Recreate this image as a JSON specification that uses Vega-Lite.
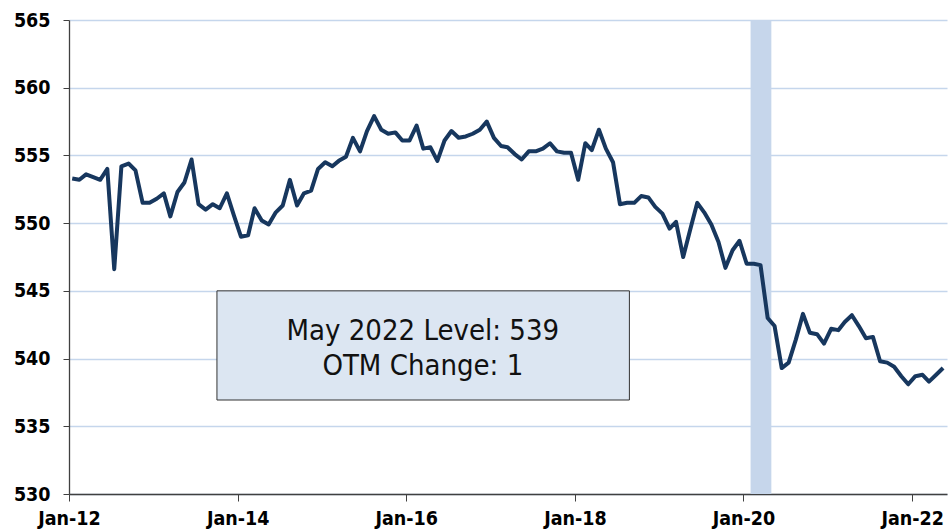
{
  "$schema": "https://vega.github.io/schema/vega-lite/v6.json",
  "width": 878,
  "height": 474,
  "autosize": "none",
  "padding": {"left": 69, "top": 20, "right": 5, "bottom": 36},
  "background": "white",
  "config": {
    "view": {"stroke": null},
    "font": "DejaVu Sans Condensed"
  },
  "datasets": {
    "series": [
      {"date": "2012-01-15", "v": 553.3}, {"date": "2012-02-15", "v": 553.2}, {"date": "2012-03-15", "v": 553.6}, {"date": "2012-04-15", "v": 553.4}, {"date": "2012-05-15", "v": 553.2}, {"date": "2012-06-15", "v": 554.0}, {"date": "2012-07-15", "v": 546.6}, {"date": "2012-08-15", "v": 554.2}, {"date": "2012-09-15", "v": 554.4}, {"date": "2012-10-15", "v": 553.9}, {"date": "2012-11-15", "v": 551.5}, {"date": "2012-12-15", "v": 551.5},
      {"date": "2013-01-15", "v": 551.8}, {"date": "2013-02-15", "v": 552.2}, {"date": "2013-03-15", "v": 550.5}, {"date": "2013-04-15", "v": 552.3}, {"date": "2013-05-15", "v": 553.0}, {"date": "2013-06-15", "v": 554.7}, {"date": "2013-07-15", "v": 551.4}, {"date": "2013-08-15", "v": 551.0}, {"date": "2013-09-15", "v": 551.4}, {"date": "2013-10-15", "v": 551.1}, {"date": "2013-11-15", "v": 552.2}, {"date": "2013-12-15", "v": 550.6},
      {"date": "2014-01-15", "v": 549.0}, {"date": "2014-02-15", "v": 549.1}, {"date": "2014-03-15", "v": 551.1}, {"date": "2014-04-15", "v": 550.2}, {"date": "2014-05-15", "v": 549.9}, {"date": "2014-06-15", "v": 550.8}, {"date": "2014-07-15", "v": 551.3}, {"date": "2014-08-15", "v": 553.2}, {"date": "2014-09-15", "v": 551.3}, {"date": "2014-10-15", "v": 552.2}, {"date": "2014-11-15", "v": 552.4}, {"date": "2014-12-15", "v": 554.0},
      {"date": "2015-01-15", "v": 554.5}, {"date": "2015-02-15", "v": 554.2}, {"date": "2015-03-15", "v": 554.6}, {"date": "2015-04-15", "v": 554.9}, {"date": "2015-05-15", "v": 556.3}, {"date": "2015-06-15", "v": 555.3}, {"date": "2015-07-15", "v": 556.8}, {"date": "2015-08-15", "v": 557.9}, {"date": "2015-09-15", "v": 556.9}, {"date": "2015-10-15", "v": 556.6}, {"date": "2015-11-15", "v": 556.7}, {"date": "2015-12-15", "v": 556.1},
      {"date": "2016-01-15", "v": 556.1}, {"date": "2016-02-15", "v": 557.2}, {"date": "2016-03-15", "v": 555.5}, {"date": "2016-04-15", "v": 555.6}, {"date": "2016-05-15", "v": 554.6}, {"date": "2016-06-15", "v": 556.1}, {"date": "2016-07-15", "v": 556.8}, {"date": "2016-08-15", "v": 556.3}, {"date": "2016-09-15", "v": 556.4}, {"date": "2016-10-15", "v": 556.6}, {"date": "2016-11-15", "v": 556.9}, {"date": "2016-12-15", "v": 557.5},
      {"date": "2017-01-15", "v": 556.3}, {"date": "2017-02-15", "v": 555.7}, {"date": "2017-03-15", "v": 555.6}, {"date": "2017-04-15", "v": 555.1}, {"date": "2017-05-15", "v": 554.7}, {"date": "2017-06-15", "v": 555.3}, {"date": "2017-07-15", "v": 555.3}, {"date": "2017-08-15", "v": 555.5}, {"date": "2017-09-15", "v": 555.9}, {"date": "2017-10-15", "v": 555.3}, {"date": "2017-11-15", "v": 555.2}, {"date": "2017-12-15", "v": 555.2},
      {"date": "2018-01-15", "v": 553.2}, {"date": "2018-02-15", "v": 555.9}, {"date": "2018-03-15", "v": 555.4}, {"date": "2018-04-15", "v": 556.9}, {"date": "2018-05-15", "v": 555.5}, {"date": "2018-06-15", "v": 554.5}, {"date": "2018-07-15", "v": 551.4}, {"date": "2018-08-15", "v": 551.5}, {"date": "2018-09-15", "v": 551.5}, {"date": "2018-10-15", "v": 552.0}, {"date": "2018-11-15", "v": 551.9}, {"date": "2018-12-15", "v": 551.2},
      {"date": "2019-01-15", "v": 550.7}, {"date": "2019-02-15", "v": 549.6}, {"date": "2019-03-15", "v": 550.1}, {"date": "2019-04-15", "v": 547.5}, {"date": "2019-05-15", "v": 549.5}, {"date": "2019-06-15", "v": 551.5}, {"date": "2019-07-15", "v": 550.8}, {"date": "2019-08-15", "v": 549.9}, {"date": "2019-09-15", "v": 548.6}, {"date": "2019-10-15", "v": 546.7}, {"date": "2019-11-15", "v": 548.0}, {"date": "2019-12-15", "v": 548.7},
      {"date": "2020-01-15", "v": 547.0}, {"date": "2020-02-15", "v": 547.0}, {"date": "2020-03-15", "v": 546.9}, {"date": "2020-04-15", "v": 543.0}, {"date": "2020-05-15", "v": 542.4}, {"date": "2020-06-15", "v": 539.3}, {"date": "2020-07-15", "v": 539.7}, {"date": "2020-08-15", "v": 541.4}, {"date": "2020-09-15", "v": 543.3}, {"date": "2020-10-15", "v": 541.9}, {"date": "2020-11-15", "v": 541.8}, {"date": "2020-12-15", "v": 541.1},
      {"date": "2021-01-15", "v": 542.2}, {"date": "2021-02-15", "v": 542.1}, {"date": "2021-03-15", "v": 542.7}, {"date": "2021-04-15", "v": 543.2}, {"date": "2021-05-15", "v": 542.4}, {"date": "2021-06-15", "v": 541.5}, {"date": "2021-07-15", "v": 541.6}, {"date": "2021-08-15", "v": 539.8}, {"date": "2021-09-15", "v": 539.7}, {"date": "2021-10-15", "v": 539.4}, {"date": "2021-11-15", "v": 538.7}, {"date": "2021-12-15", "v": 538.1},
      {"date": "2022-01-15", "v": 538.7}, {"date": "2022-02-15", "v": 538.8}, {"date": "2022-03-15", "v": 538.3}, {"date": "2022-04-15", "v": 538.8}, {"date": "2022-05-15", "v": 539.3}
    ],
    "recession": [{"start": "2020-02-01", "end": "2020-05-01"}],
    "box": [{"start": "2013-10-03", "end": "2018-08-25", "low": 536.94, "high": 545.0}],
    "labels": [
      {"date": "2016-03-13", "v": 541.37, "label": "May 2022 Level: 539"},
      {"date": "2016-03-13", "v": 538.79, "label": "OTM Change: 1"}
    ]
  },
  "layer": [
    {
      "data": {"name": "recession"},
      "mark": {"type": "rect", "color": "#c6d6eb"},
      "encoding": {
        "x": {
          "field": "start",
          "type": "temporal",
          "scale": {
            "type": "utc",
            "domain": [
              {"year": 2012, "month": 1, "date": 1, "utc": true},
              {"year": 2022, "month": 6, "date": 1, "utc": true}
            ]
          },
          "axis": {
            "title": null,
            "values": [
              {"year": 2012, "month": 1, "date": 1, "utc": true},
              {"year": 2014, "month": 1, "date": 1, "utc": true},
              {"year": 2016, "month": 1, "date": 1, "utc": true},
              {"year": 2018, "month": 1, "date": 1, "utc": true},
              {"year": 2020, "month": 1, "date": 1, "utc": true},
              {"year": 2022, "month": 1, "date": 1, "utc": true}
            ],
            "labelExpr": "utcFormat(datum.value, '%b-%y')",
            "grid": false,
            "domainColor": "#404040",
            "domainWidth": 1.3,
            "tickColor": "#404040",
            "tickSize": 7,
            "labelPadding": 8,
            "labelFont": "DejaVu Sans Condensed",
            "labelFontWeight": "bold",
            "labelFontSize": 19.5,
            "labelColor": "#000000",
            "labelFlush": false,
            "labelOverlap": false
          }
        },
        "x2": {"field": "end"}
      }
    },
    {
      "data": {"name": "series"},
      "mark": {"type": "line", "color": "#17375e", "strokeWidth": 4, "strokeJoin": "round"},
      "encoding": {
        "x": {"field": "date", "type": "temporal"},
        "y": {
          "field": "v",
          "type": "quantitative",
          "scale": {"domain": [530, 565], "nice": false, "zero": false},
          "axis": {
            "title": null,
            "values": [530, 535, 540, 545, 550, 555, 560, 565],
            "grid": true,
            "gridColor": "#c5d6ec",
            "gridWidth": 1.3,
            "domainColor": "#404040",
            "domainWidth": 1.3,
            "tickColor": "#404040",
            "tickSize": 6,
            "labelPadding": 13,
            "labelFont": "DejaVu Sans Condensed",
            "labelFontWeight": "bold",
            "labelFontSize": 19.5,
            "labelColor": "#000000"
          }
        }
      }
    },
    {
      "data": {"name": "box"},
      "mark": {"type": "rect", "fill": "#dce6f2", "stroke": "#333333", "strokeWidth": 1},
      "encoding": {
        "x": {"field": "start", "type": "temporal"},
        "x2": {"field": "end"},
        "y": {"field": "high", "type": "quantitative"},
        "y2": {"field": "low"}
      }
    },
    {
      "data": {"name": "labels"},
      "mark": {"type": "text", "font": "DejaVu Sans Condensed", "fontSize": 29, "align": "center", "baseline": "alphabetic", "color": "#111111"},
      "encoding": {
        "x": {"field": "date", "type": "temporal"},
        "y": {"field": "v", "type": "quantitative"},
        "text": {"field": "label"}
      }
    }
  ]
}
